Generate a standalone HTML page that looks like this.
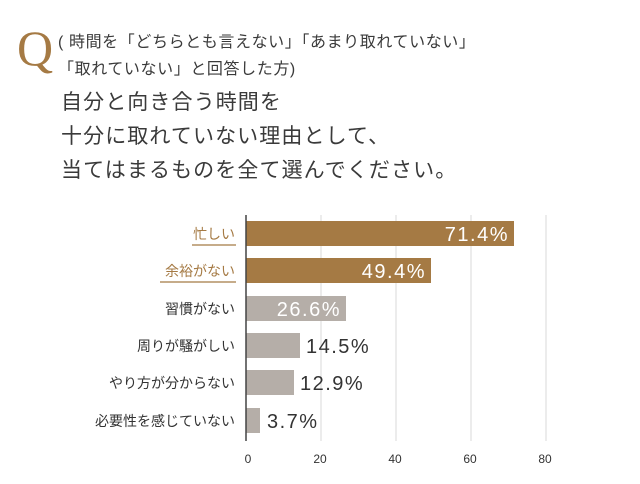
<!DOCTYPE html>
<html><head><meta charset="utf-8"><style>
html,body{margin:0;padding:0;background:#fff;}
body{width:640px;height:484px;position:relative;overflow:hidden;font-family:"Liberation Sans","Noto Sans CJK JP",sans-serif;color:#3a3a3a;}
.t{position:absolute;white-space:nowrap;}
</style></head><body>
<div class="t" style="left:17px;top:18px;font-family:'Liberation Serif',serif;font-size:50px;color:#a57a44;line-height:60px;">Q</div>
<div class="t" style="left:58px;top:32px;font-size:16px;letter-spacing:0.6px;line-height:22px;">( 時間を「どちらとも言えない」「あまり取れていない」</div>
<div class="t" style="left:58px;top:59px;font-size:16px;letter-spacing:0.6px;line-height:22px;">「取れていない」と回答した方)</div>
<div class="t" style="left:61px;top:88px;font-size:21px;letter-spacing:1.1px;line-height:30px;">自分と向き合う時間を</div>
<div class="t" style="left:61px;top:122px;font-size:21px;letter-spacing:1.1px;line-height:30px;">十分に取れていない理由として、</div>
<div class="t" style="left:61px;top:156px;font-size:21px;letter-spacing:1.1px;line-height:30px;">当てはまるものを全て選んでください。</div>
<svg width="640" height="484" style="position:absolute;left:0;top:0" font-family="Liberation Sans, Noto Sans CJK JP, sans-serif">
<g stroke="#d8d8d8" stroke-width="1">
<line x1="321" y1="215" x2="321" y2="441"/><line x1="396" y1="215" x2="396" y2="441"/>
<line x1="471" y1="215" x2="471" y2="441"/><line x1="546" y1="215" x2="546" y2="441"/>
</g>
<rect x="246" y="221" width="268" height="25" fill="#a57a44"/>
<rect x="246" y="258" width="185" height="25" fill="#a57a44"/>
<rect x="246" y="296" width="100" height="25" fill="#b5aea8"/>
<rect x="246" y="333" width="54" height="25" fill="#b5aea8"/>
<rect x="246" y="370" width="48" height="25" fill="#b5aea8"/>
<rect x="246" y="408" width="14" height="25" fill="#b5aea8"/>
<line x1="246" y1="215" x2="246" y2="441" stroke="#444" stroke-width="1.5"/>
<g font-size="20" letter-spacing="1.5">
<text x="509" y="241" text-anchor="end" fill="#fff">71.4%</text>
<text x="426" y="278" text-anchor="end" fill="#fff">49.4%</text>
<text x="341" y="316" text-anchor="end" fill="#fff">26.6%</text>
<text x="306" y="353" fill="#333">14.5%</text>
<text x="300" y="390" fill="#333">12.9%</text>
<text x="267" y="428" fill="#333">3.7%</text>
</g>
<g font-size="14" text-anchor="end" fill="#333">
<text x="235" y="239" fill="#a57a44">忙しい</text>
<text x="235" y="276" fill="#a57a44">余裕がない</text>
<text x="235" y="314">習慣がない</text>
<text x="235" y="351">周りが騒がしい</text>
<text x="235" y="388">やり方が分からない</text>
<text x="235" y="426">必要性を感じていない</text>
</g>
<line x1="192" y1="245" x2="236" y2="245" stroke="#a57a44" stroke-width="1.2"/>
<line x1="160" y1="282" x2="236" y2="282" stroke="#a57a44" stroke-width="1.2"/>
<g font-size="12" text-anchor="middle" fill="#333">
<text x="248" y="463">0</text><text x="320" y="463">20</text><text x="395" y="463">40</text><text x="470" y="463">60</text><text x="545" y="463">80</text>
</g>
</svg>
</body></html>
